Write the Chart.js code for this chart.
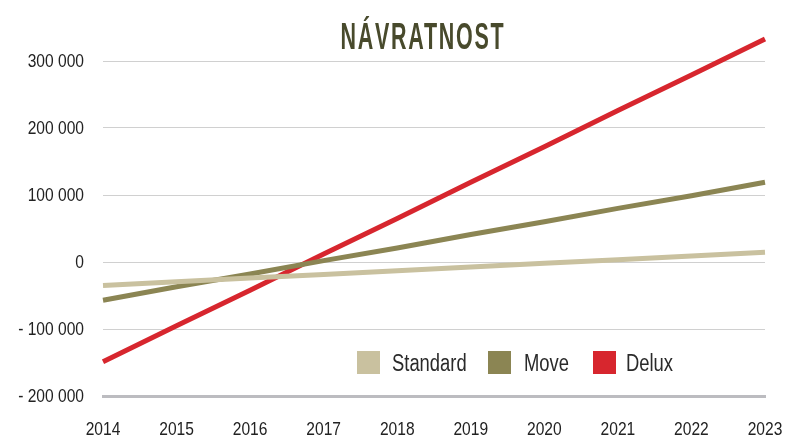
<!DOCTYPE html>
<html>
<head>
<meta charset="utf-8">
<script src="https://cdn.jsdelivr.net/npm/chart.js@4.4.1/dist/chart.umd.min.js"></script>
<style>
  html, body { margin: 0; padding: 0; background: #ffffff; }
  #wrap { width: 800px; height: 437px; position: relative; }
</style>
</head>
<body>
<div id="wrap"><canvas id="c" width="800" height="437"></canvas></div>
<script>
const titleText = 'NÁVRATNOST';
const years = ['2014', '2015', '2016', '2017', '2018', '2019', '2020', '2021', '2022', '2023'];
const standard = [-35000, -29500, -24000, -18500, -13000, -7500, -2000, 3500, 9000, 14500];
const move = [-57000, -37000, -18000, 2000, 21000, 41000, 60000, 80000, 99000, 119000];
const delux = [-149000, -95000, -42000, 12000, 65000, 119000, 172000, 226000, 279000, 333000];
const seriesNames = ['Standard', 'Move', 'Delux'];
const seriesColors = ['#c9c19f', '#8b8553', '#d7262e'];
const yMin = -200000;
const yMax = 300000;
const yStep = 100000;

const FONT = '"Liberation Sans", Arial, sans-serif';
const NARROW = 0.82;

function fmt(v) {
  const a = Math.abs(v).toString().replace(/\B(?=(\d{3})+(?!\d))/g, ' ');
  return v < 0 ? '- ' + a : a;
}

function narrowText(ctx, text, x, y, sx) {
  ctx.save();
  ctx.translate(x, y);
  ctx.scale(sx, 1);
  ctx.fillText(text, 0, 0);
  ctx.restore();
}

const textPlugin = {
  id: 'narrowTexts',
  afterDraw(chart) {
    const ctx = chart.ctx;
    const area = chart.chartArea;
    ctx.save();
    // title
    ctx.font = 'bold 37px ' + FONT;
    ctx.fillStyle = '#484a2c';
    ctx.textAlign = 'center';
    ctx.textBaseline = 'alphabetic';
    try { ctx.letterSpacing = '3px'; } catch (e) {}
    narrowText(ctx, titleText, 423, 49, 0.58);
    try { ctx.letterSpacing = '0px'; } catch (e) {}

    // y tick labels
    const ys = chart.scales.y;
    ctx.font = '19px ' + FONT;
    ctx.fillStyle = '#222222';
    ctx.textAlign = 'right';
    ys.ticks.forEach((t) => {
      const py = ys.getPixelForValue(t.value);
      narrowText(ctx, fmt(t.value), area.left - 19, py + 6, NARROW);
    });

    // x tick labels
    const xs = chart.scales.x;
    ctx.textAlign = 'center';
    xs.ticks.forEach((t, i) => {
      const px = xs.getPixelForTick(i);
      narrowText(ctx, chart.data.labels[t.value], px, area.bottom + 39, NARROW);
    });

    // legend
    const sqX = [357, 488, 593];
    const txX = [392, 524, 626];
    ctx.textAlign = 'left';
    ctx.font = '23px ' + FONT;
    chart.data.datasets.forEach((ds, i) => {
      ctx.fillStyle = ds.borderColor;
      ctx.fillRect(sqX[i], 351, 23, 23);
      ctx.fillStyle = '#2a2a2a';
      narrowText(ctx, ds.label, txX[i], 371, 0.8);
    });
    ctx.restore();
  }
};

const datasets = [standard, move, delux].map((d, i) => ({
  label: seriesNames[i],
  data: d,
  borderColor: seriesColors[i],
  backgroundColor: seriesColors[i],
  borderWidth: 5,
  pointRadius: 0,
  pointHoverRadius: 0,
  tension: 0,
  fill: false,
  clip: false
}));

new Chart(document.getElementById('c'), {
  type: 'line',
  data: { labels: years, datasets: datasets },
  options: {
    responsive: false,
    animation: false,
    devicePixelRatio: 1,
    layout: { padding: { left: 103, right: 35, top: 61, bottom: 41 } },
    plugins: {
      legend: { display: false },
      title: { display: false },
      tooltip: { enabled: false }
    },
    scales: {
      x: {
        offset: false,
        grid: { display: false, drawTicks: false },
        border: { display: true, color: '#bcbcc0', width: 3 },
        ticks: { display: false, autoSkip: false }
      },
      y: {
        min: yMin,
        max: yMax,
        grid: {
          drawTicks: false,
          color: (c) => (c.tick && c.tick.value === yMin) ? 'rgba(0,0,0,0)' : '#d0d0d0',
          lineWidth: 1
        },
        border: { display: false },
        ticks: { display: false, stepSize: yStep }
      }
    }
  },
  plugins: [textPlugin]
});
</script>
</body>
</html>
